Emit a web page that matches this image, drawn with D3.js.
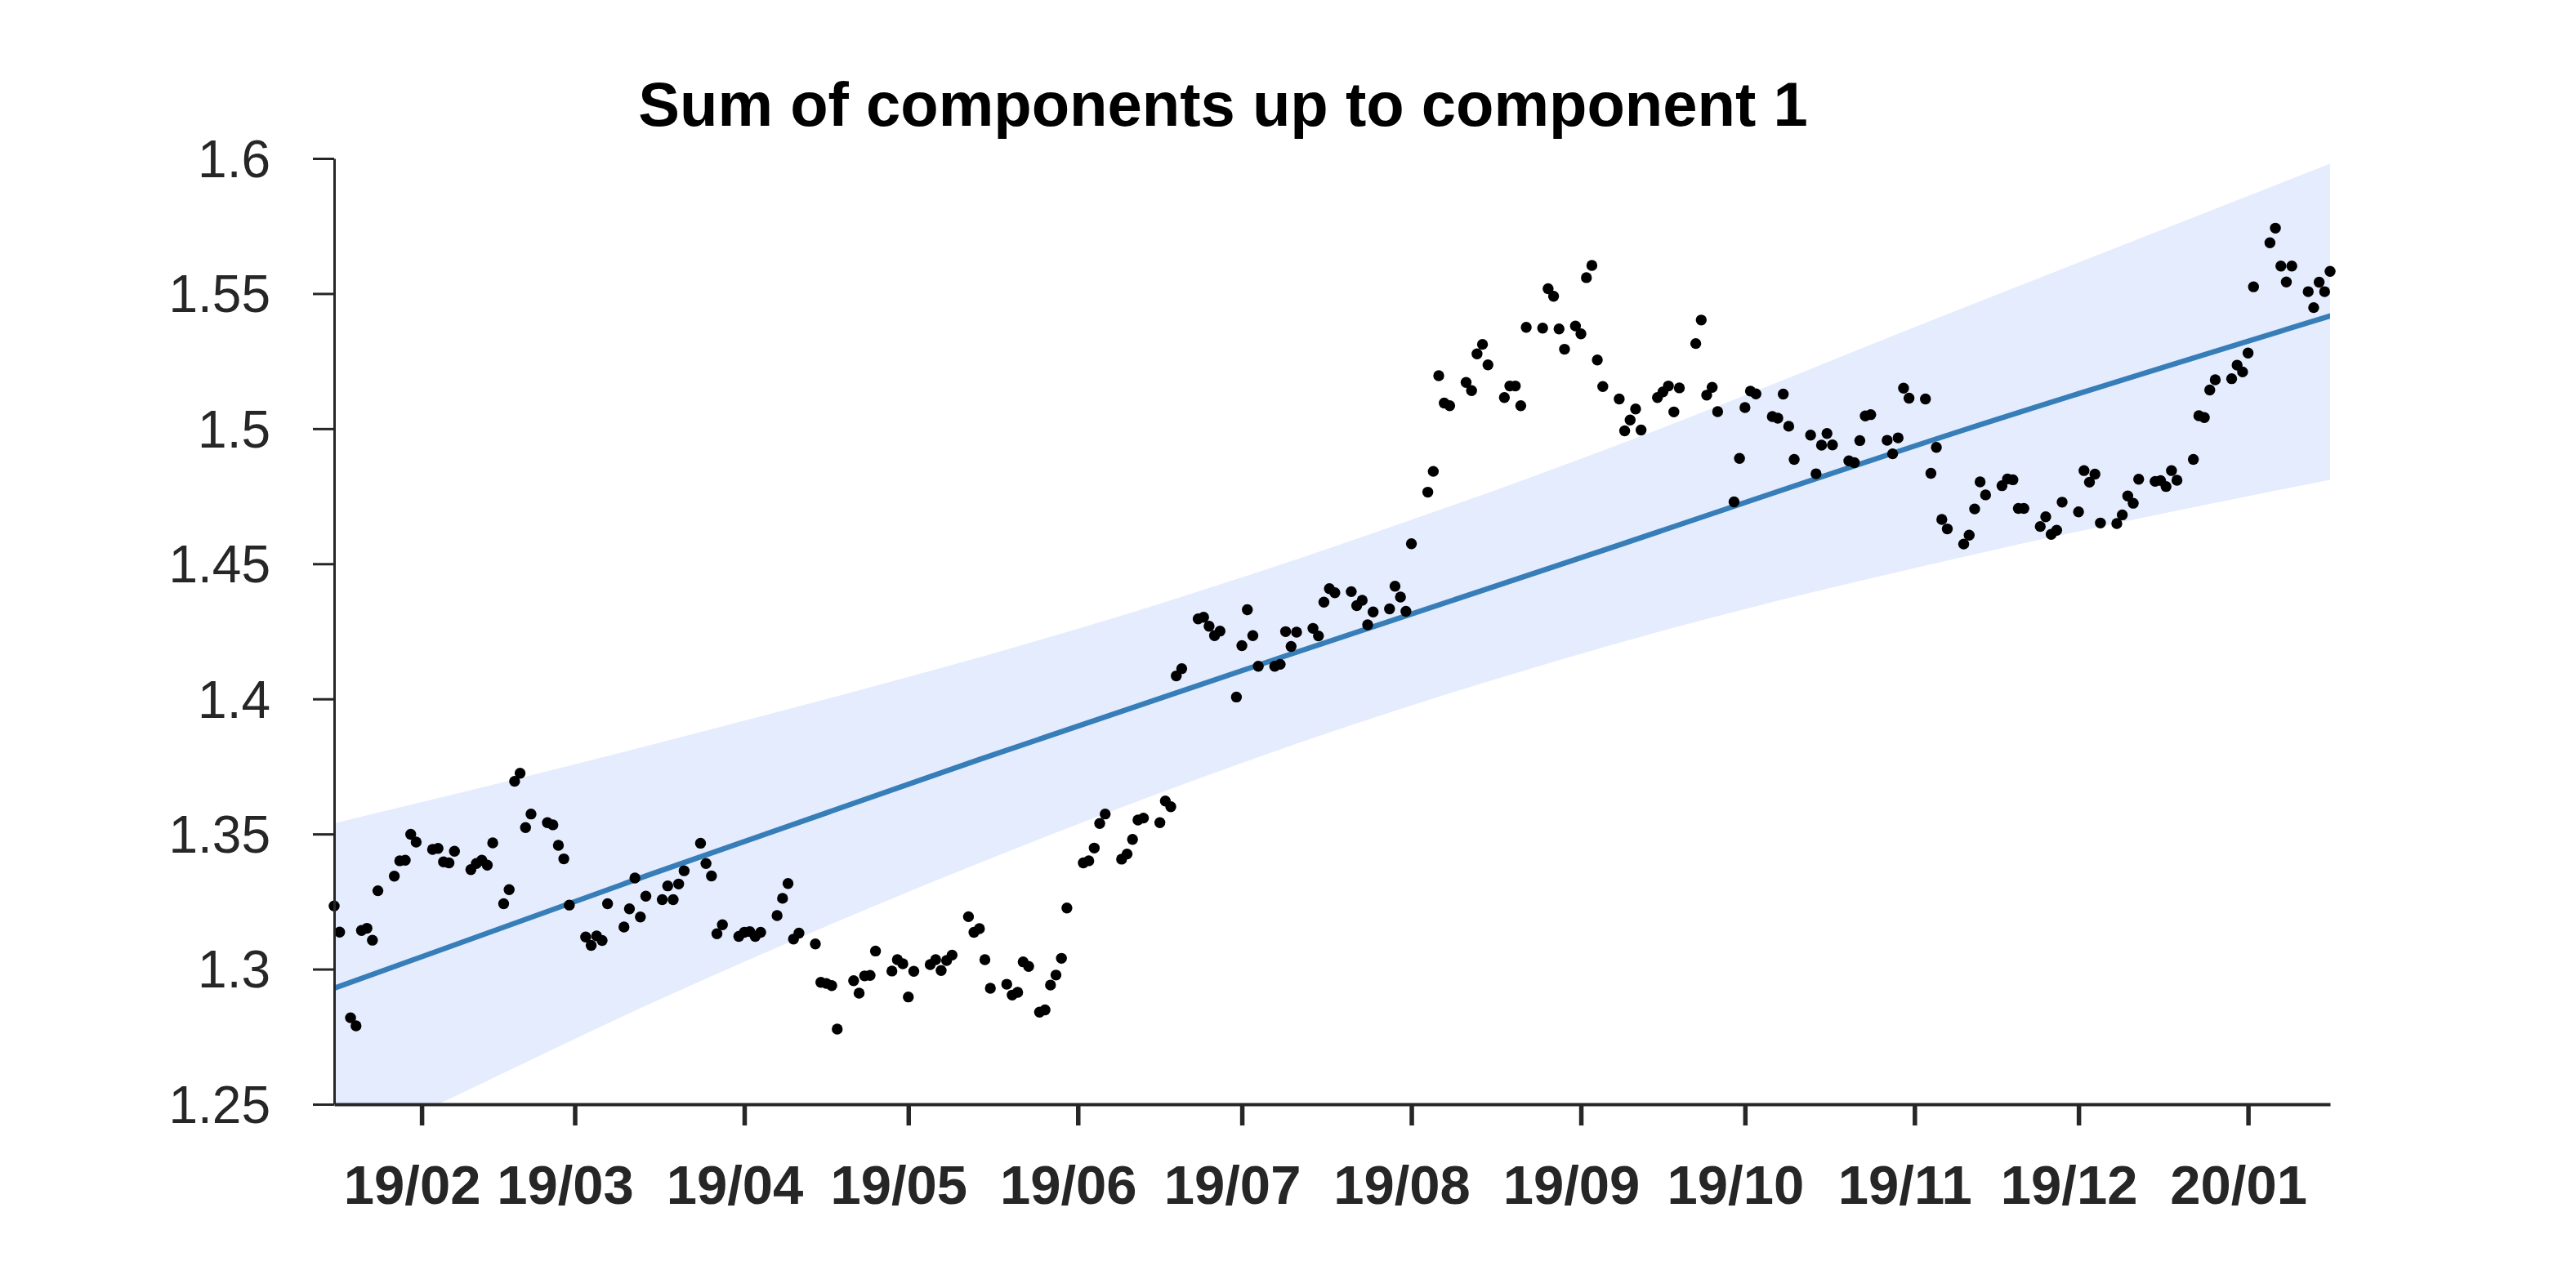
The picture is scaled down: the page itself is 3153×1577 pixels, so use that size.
<!DOCTYPE html>
<html>
<head>
<meta charset="utf-8">
<script src="https://cdn.jsdelivr.net/npm/d3@7"></script>
<style>
  html, body { margin: 0; padding: 0; background: #fff; }
  svg text { font-family: "Liberation Sans", Arial, Helvetica, sans-serif; }
</style>
</head>
<body>
<div id="chart"></div>
<script>
const title = 'Sum of components up to component 1';
const startDate = new Date(2019, 0, 16);
const endDate = new Date(2020, 0, 16);
const yTicks = [1.25, 1.3, 1.35, 1.4, 1.45, 1.5, 1.55, 1.6];

// observations: days after 2019-01-16 and their values
const dayOffsets = [
  0, 1, 3, 4, 5, 6, 7, 8, 11, 12, 13, 14, 15, 18, 19, 20, 21, 22, 25, 26, 27, 28, 29,
  31, 32, 33, 34, 35, 36, 39, 40, 41, 42, 43, 46, 47, 48, 49, 50, 53, 54, 55, 56, 57,
  60, 61, 62, 63, 64, 67, 68, 69, 70, 71, 74, 75, 76, 77, 78, 81, 82, 83, 84, 85,
  88, 89, 90, 91, 92, 95, 96, 97, 98, 99, 102, 103, 104, 105, 106, 109, 110, 111, 112, 113,
  116, 117, 118, 119, 120, 123, 124, 125, 126, 127, 129, 130, 131, 132, 133, 134,
  137, 138, 139, 140, 141, 144, 145, 146, 147, 148, 151, 152, 153, 154, 155,
  158, 159, 160, 161, 162, 165, 166, 167, 168, 169, 172, 173, 174, 175, 176,
  179, 180, 181, 182, 183, 186, 187, 188, 189, 190, 193, 194, 195, 196, 197,
  200, 201, 202, 203, 204, 207, 208, 209, 210, 211, 214, 215, 216, 217, 218,
  221, 222, 223, 224, 225, 227, 228, 229, 230, 231, 232, 235, 236, 237, 238, 239,
  242, 243, 244, 245, 246, 249, 250, 251, 252, 253, 256, 257, 258, 259, 260,
  263, 264, 265, 266, 267, 270, 271, 272, 273, 274, 277, 278, 279, 280, 281,
  284, 285, 286, 287, 288, 291, 292, 293, 294, 295, 298, 299, 300, 301, 302,
  305, 306, 307, 308, 309, 312, 313, 314, 315, 316, 319, 320, 321, 322, 323,
  326, 327, 328, 329, 330, 333, 334, 335, 336, 337, 340, 341, 342, 343, 344,
  347, 348, 349, 350, 351, 354, 355, 356, 357, 358, 361, 362, 363, 364, 365
];
const values = [
  1.3234, 1.3137, 1.2820, 1.2790, 1.3143, 1.3151, 1.3107, 1.3290, 1.3344, 1.3401, 1.3403, 1.3499, 1.3470,
  1.3443, 1.3447, 1.3397, 1.3393, 1.3436, 1.3368, 1.3391, 1.3403, 1.3385, 1.3467,
  1.3242, 1.3294, 1.3695, 1.3725, 1.3524, 1.3574, 1.3542, 1.3534, 1.3458, 1.3408, 1.3237,
  1.3119, 1.3088, 1.3123, 1.3106, 1.3242, 1.3156, 1.3223, 1.3337, 1.3193, 1.3270,
  1.3257, 1.3308, 1.3257, 1.3315, 1.3364, 1.3466, 1.3391, 1.3345, 1.3131, 1.3164,
  1.3121, 1.3136, 1.3139, 1.3121, 1.3136, 1.3198, 1.3262, 1.3317, 1.3111, 1.3133,
  1.3093, 1.2951, 1.2947, 1.2939, 1.2778, 1.2957, 1.2911, 1.2975, 1.2977, 1.3067,
  1.2993, 1.3035, 1.3020, 1.2897, 1.2992, 1.3017, 1.3035, 1.2995, 1.3032, 1.3052,
  1.3194, 1.3136, 1.3150, 1.3035, 1.2929, 1.2944, 1.2904, 1.2914, 1.3027, 1.3010,
  1.2841, 1.2849, 1.2941, 1.2978, 1.3040, 1.3226,
  1.3393, 1.3401, 1.3448, 1.3539, 1.3574, 1.3407, 1.3426, 1.3480, 1.3552, 1.3559,
  1.3542, 1.3622, 1.3601, 1.4085, 1.4112,
  1.4296, 1.4302, 1.4269, 1.4234, 1.4251, 1.4007, 1.4197, 1.4330, 1.4234, 1.4121,
  1.4121, 1.4128, 1.4249, 1.4194, 1.4247,
  1.4261, 1.4233, 1.4358, 1.4408, 1.4393, 1.4397, 1.4345, 1.4365, 1.4274, 1.4322,
  1.4333, 1.4417, 1.4377, 1.4324, 1.4574,
  1.4765, 1.4842, 1.5196, 1.5095, 1.5085, 1.5171, 1.5141, 1.5277, 1.5312, 1.5236,
  1.5115, 1.5158, 1.5158, 1.5085, 1.5375,
  1.5372, 1.5518, 1.5490, 1.5369, 1.5294, 1.5380, 1.5351, 1.5559, 1.5604, 1.5254, 1.5156,
  1.5110, 1.4992, 1.5032, 1.5073, 1.4995,
  1.5115, 1.5136, 1.5158, 1.5062, 1.5151, 1.5315, 1.5402, 1.5124, 1.5153, 1.5063,
  1.4729, 1.4890, 1.5078, 1.5139, 1.5129,
  1.5045, 1.5039, 1.5128, 1.5009, 1.4886, 1.4976, 1.4833, 1.4939, 1.4982, 1.4940,
  1.4881, 1.4874, 1.4956, 1.5047, 1.5052,
  1.4957, 1.4907, 1.4966, 1.5150, 1.5113, 1.5110, 1.4835, 1.4931, 1.4664, 1.4629,
  1.4573, 1.4606, 1.4703, 1.4803, 1.4755,
  1.4789, 1.4814, 1.4811, 1.4705, 1.4705, 1.4638, 1.4674, 1.4609, 1.4624, 1.4728,
  1.4692, 1.4845, 1.4802, 1.4832, 1.4651,
  1.4649, 1.4681, 1.4751, 1.4724, 1.4813, 1.4805, 1.4808, 1.4786, 1.4845, 1.4809,
  1.4886, 1.5048, 1.5041, 1.5143, 1.5181,
  1.5185, 1.5235, 1.5210, 1.5280, 1.5525, 1.5688, 1.5742, 1.5602, 1.5543, 1.5602,
  1.5507, 1.5448, 1.5542, 1.5507, 1.5582
];

// fitted trend and its band
const trendDays = [0, 58, 118, 175, 230, 298, 365];
const trendValues = [1.2929, 1.3352, 1.3776, 1.4166, 1.4536, 1.4995, 1.5417];
const upperDays = [0, 58, 153, 232, 298, 365];
const upperValues = [1.354, 1.383, 1.4365, 1.4919, 1.5448, 1.598];
const lowerDays = [0, 19, 58, 118, 185, 242, 298, 365];
const lowerValues = [1.232, 1.25, 1.2874, 1.3393, 1.3896, 1.4247, 1.4526, 1.4811];

const width = 3153;
const height = 1577;
const margin = { top: 194, right: 301, bottom: 225, left: 409 };
const plotW = width - margin.left - margin.right;
const plotH = height - margin.top - margin.bottom;

const toDate = d => d3.timeDay.offset(startDate, d);

const svg = d3.select('#chart')
  .append('svg')
  .attr('width', width)
  .attr('height', height)
  .style('display', 'block');

const g = svg.append('g')
  .attr('transform', `translate(${margin.left}, ${margin.top})`);

const x = d3.scaleTime().domain([startDate, endDate]).range([0, plotW]);
const y = d3.scaleLinear().domain([1.25, 1.6]).range([plotH, 0]);

svg.append('defs').append('clipPath')
  .attr('id', 'plot-clip')
  .append('rect')
  .attr('width', plotW)
  .attr('height', plotH);

const plot = g.append('g').attr('clip-path', 'url(#plot-clip)');

// confidence band
const bandLine = d3.line()
  .x(d => x(toDate(d[0])))
  .y(d => y(d[1]))
  .curve(d3.curveMonotoneX);
const upperPts = upperDays.map((d, i) => [d, upperValues[i]]);
const lowerPts = lowerDays.map((d, i) => [d, lowerValues[i]]).reverse();
plot.append('path')
  .attr('d', bandLine(upperPts) + bandLine(lowerPts).replace(/^M/, 'L') + 'Z')
  .attr('fill', '#e4ecfd')
  .attr('stroke', 'none');

// trend line
plot.append('path')
  .datum(trendDays.map((d, i) => [d, trendValues[i]]))
  .attr('d', bandLine)
  .attr('fill', 'none')
  .attr('stroke', '#377eb8')
  .attr('stroke-width', 6.5)
  .attr('stroke-linecap', 'round');

// observations
g.append('g')
  .selectAll('circle')
  .data(dayOffsets.map((d, i) => ({ date: toDate(d), value: values[i] })))
  .enter()
  .append('circle')
  .attr('cx', d => x(d.date))
  .attr('cy', d => y(d.value))
  .attr('r', 6.7)
  .attr('fill', '#000');

// y axis
const yG = g.append('g')
  .call(d3.axisLeft(y)
    .tickValues(yTicks)
    .tickSize(26)
    .tickSizeOuter(0)
    .tickPadding(52)
    .tickFormat(d => String(+d.toFixed(2))));
yG.select('.domain').attr('stroke', '#262626').attr('stroke-width', 3);
yG.selectAll('.tick line').attr('stroke', '#262626').attr('stroke-width', 3);
yG.selectAll('.tick text')
  .attr('fill', '#262626')
  .attr('font-size', 64)
  .attr('dy', '0.35em')
  .style('font-family', '"Liberation Sans", Arial, sans-serif');

// x axis
const xG = g.append('g')
  .attr('transform', `translate(0, ${plotH})`)
  .call(d3.axisBottom(x)
    .ticks(d3.timeMonth.every(1))
    .tickSize(26)
    .tickSizeOuter(0)
    .tickFormat(d3.timeFormat('%y/%m')));
xG.select('.domain').attr('stroke', '#262626').attr('stroke-width', 4);
xG.selectAll('.tick line').attr('stroke', '#262626').attr('stroke-width', 5.5);
xG.selectAll('.tick text')
  .attr('fill', '#262626')
  .attr('font-size', 67)
  .attr('font-weight', 'bold')
  .attr('x', -12)
  .attr('y', 122)
  .attr('dy', 0)
  .style('font-family', '"Liberation Sans", Arial, sans-serif');

// title
svg.append('text')
  .attr('x', 1497)
  .attr('y', 154)
  .attr('text-anchor', 'middle')
  .attr('font-size', 76)
  .attr('font-weight', 'bold')
  .attr('fill', '#000')
  .text(title);
</script>
</body>
</html>
